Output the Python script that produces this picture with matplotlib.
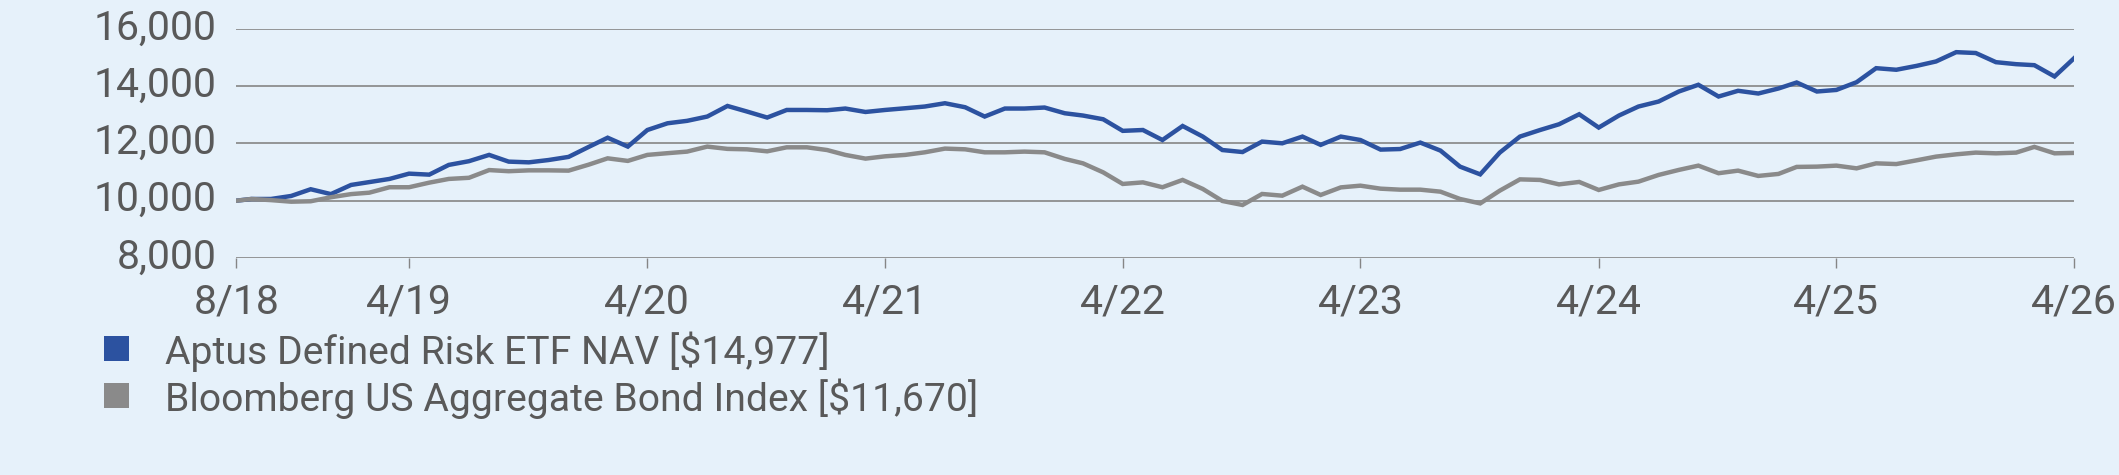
import numpy as np
import pandas as pd
import matplotlib
matplotlib.use("Agg")
import matplotlib.pyplot as plt
from matplotlib.patches import Rectangle
from matplotlib.transforms import ScaledTranslation

plt.rcParams["font.family"] = ["Roboto", "DejaVu Sans"]

# ── data ───────────────────────────────────────────────
inception = pd.Timestamp("2018-08-08")
month_ends = pd.date_range("2018-08-31", "2026-04-30", freq="ME")
dates = [inception] + list(month_ends)

fund_nav = [
    10000,
    10060, 10060, 10165, 10400, 10230, 10550, 10650, 10760, 10945, 10910,
    11250, 11380, 11600, 11365, 11340, 11420, 11530, 11880, 12200, 11890,
    12470, 12705, 12790, 12940, 13310, 13115, 12905, 13170, 13170, 13160,
    13220, 13100, 13170, 13230, 13290, 13405, 13265, 12940, 13220, 13220,
    13255, 13055, 12975, 12845, 12440, 12470, 12120, 12610, 12240, 11770,
    11700, 12065, 12005, 12240, 11950, 12240, 12120, 11785, 11805, 12030,
    11750, 11190, 10920, 11680, 12240, 12470, 12670, 13020, 12555, 12975,
    13290, 13465, 13815, 14050, 13640, 13840, 13745, 13920, 14130, 13815,
    13870, 14140, 14630, 14575, 14710, 14865, 15190, 15160, 14840, 14770,
    14735, 14340, 14977,
]
bond_index = [
    10000,
    10060, 10020, 9965, 9980, 10120, 10230, 10280, 10470, 10470, 10630,
    10760, 10800, 11070, 11030, 11060, 11060, 11050, 11260, 11480, 11390,
    11600, 11660, 11715, 11890, 11810, 11795, 11725, 11865, 11865, 11770,
    11600, 11470, 11550, 11600, 11690, 11820, 11795, 11690, 11690, 11715,
    11690, 11460, 11305, 10990, 10585, 10640, 10470, 10725, 10410, 9990,
    9850, 10235, 10175, 10490, 10200, 10465, 10525, 10420, 10385, 10385,
    10315, 10060, 9905, 10350, 10745, 10725, 10570, 10655, 10375,
    10570, 10665, 10900, 11075, 11225, 10960, 11050, 10865, 10935, 11180,
    11190, 11225, 11130, 11305, 11280, 11410, 11540, 11620, 11680, 11655,
    11680, 11880, 11655, 11670,
]

series_names = ["Aptus Defined Risk ETF NAV [$14,977]",
                "Bloomberg US Aggregate Bond Index [$11,670]"]
y_ticks = [8000, 10000, 12000, 14000, 16000]
x_tick_dates = [inception] + [pd.Timestamp(f"20{y}-04-30") for y in range(19, 27)]
x_tick_labels = ["8/18", "4/19", "4/20", "4/21", "4/22", "4/23", "4/24", "4/25", "4/26"]

# ── style ──────────────────────────────────────────────
bg = "#E6F1FA"
blue = "#2C52A0"
gray = "#8A8A8A"
text_c = "#595959"
grid_c = "#858585"

fig = plt.figure(figsize=(21.19, 4.75), dpi=100, facecolor=bg)
ax = fig.add_axes([0.1116, 0.457, 0.8672, 0.482])
ax.set_facecolor(bg)

ax.plot(dates, fund_nav, color=blue, linewidth=3.2, solid_joinstyle="miter", zorder=3)
ax.plot(dates, bond_index, color=gray, linewidth=3.2, solid_joinstyle="miter", zorder=4)

ax.set_ylim(8000, 16000)
ax.set_xlim(inception, pd.Timestamp("2026-04-30"))
ax.set_yticks(y_ticks)
ax.set_yticklabels([f"{v:,}" for v in y_ticks])
ax.set_xticks(x_tick_dates)
ax.set_xticklabels(x_tick_labels)

ax.grid(axis="y", color=grid_c, linewidth=1.2)
ax.set_axisbelow(True)
for s in ["top", "right", "left", "bottom"]:
    ax.spines[s].set_visible(False)

ax.tick_params(axis="y", length=0, pad=14, labelsize=29.5, labelcolor=text_c)
ax.tick_params(axis="x", length=7, width=1, color=grid_c, pad=11,
               labelsize=29.5, labelcolor=text_c)
for lab in ax.get_yticklabels():
    lab.set_transform(lab.get_transform() + ScaledTranslation(0, 0.05, fig.dpi_scale_trans))

# ── legend ─────────────────────────────────────────────
W, H = 2119, 475
for i, (name, c) in enumerate(zip(series_names, [blue, gray])):
    yc = 348 + i * 47
    fig.patches.append(Rectangle((104 / W, 1 - (yc + 12.5) / H), 25 / W, 25 / H,
                                 transform=fig.transFigure, facecolor=c,
                                 edgecolor="none"))
    fig.text(165 / W, 1 - yc / H, name, fontsize=28.2, color=text_c,
             va="center_baseline", ha="left")

fig.savefig("out.png", dpi=100, facecolor=bg)
